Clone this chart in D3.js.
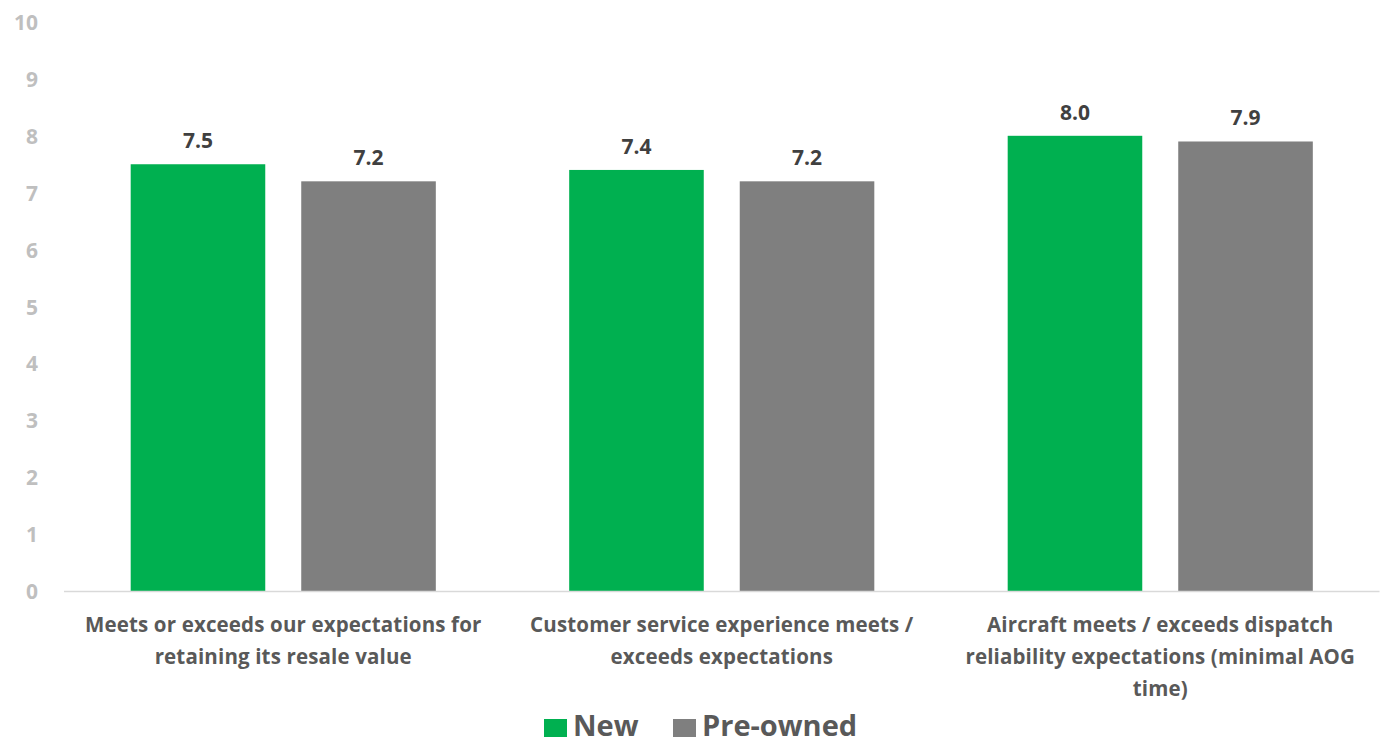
<!DOCTYPE html>
<html>
<head>
<meta charset="utf-8">
<script src="https://cdn.jsdelivr.net/npm/d3@7"></script>
<style>
  body { margin: 0; background: #fff; }
  svg { display: block; font-family: "Open Sans", Lato, sans-serif; font-weight: bold; }
</style>
</head>
<body>
<svg id="chart" width="1384" height="744"></svg>
<script>
// chart values
const categories = ["c1", "c2", "c3"]
const categoryLines = [
    ["Meets or exceeds our expectations for", "retaining its resale value"],
    ["Customer service experience meets /", "exceeds expectations"],
    ["Aircraft meets / exceeds dispatch", "reliability expectations (minimal AOG", "time)"]
]
const seriesNames = ["New", "Pre-owned"]
const newValues = [7.5, 7.4, 8.0]
const preownedValues = [7.2, 7.2, 7.9]
const yTicks = [0, 1, 2, 3, 4, 5, 6, 7, 8, 9, 10]
const colors = ["#00b050", "#7f7f7f"]

const svg = d3.select("#chart")
const plotLeft = 64, plotRight = 1379.5, plotTop = 22, plotBottom = 591

const x0 = d3.scaleBand().domain(categories).range([plotLeft, plotRight]).padding(0)
const x1 = d3.scaleBand().domain(seriesNames).range([0, x0.bandwidth()])
    .paddingInner(0.211).paddingOuter(0.391)
const y = d3.scaleLinear().domain([0, 10]).range([plotBottom, plotTop])

// y axis labels (no line)
const yAxis = d3.axisLeft(y).tickValues(yTicks).tickSize(0).tickPadding(0).tickFormat(d3.format("d"))
const yg = svg.append("g").attr("transform", "translate(38,0)").call(yAxis)
yg.select(".domain").remove()
yg.selectAll("text")
    .attr("fill", "#bfbfbf")
    .attr("dy", "0.36em")
    .style("font-size", "21px")
    .style("font-family", "'Open Sans', Lato, sans-serif")
    .style("font-weight", "bold")

const rows = categories.map((c, i) => ({ cat: c, vals: [newValues[i], preownedValues[i]] }))

const groups = svg.append("g").selectAll("g")
    .data(rows)
    .join("g")
    .attr("transform", d => `translate(${x0(d.cat)},0)`)

groups.selectAll("rect")
    .data(d => d.vals.map((v, j) => ({ name: seriesNames[j], v: v, j: j })))
    .join("rect")
    .attr("x", d => x1(d.name))
    .attr("width", x1.bandwidth())
    .attr("y", d => y(d.v))
    .attr("height", d => y(0) - y(d.v))
    .attr("fill", d => colors[d.j])

groups.selectAll("text.val")
    .data(d => d.vals.map((v, j) => ({ name: seriesNames[j], v: v })))
    .join("text")
    .attr("class", "val")
    .attr("x", d => x1(d.name) + x1.bandwidth() / 2)
    .attr("y", d => y(d.v) - 16)
    .attr("text-anchor", "middle")
    .attr("fill", "#404040")
    .style("font-size", "21px")
    .text(d => d3.format(".1f")(d.v))

// baseline
svg.append("line")
    .attr("x1", plotLeft).attr("x2", plotRight)
    .attr("y1", y(0) + 0.5).attr("y2", y(0) + 0.5)
    .attr("stroke", "#d9d9d9").attr("stroke-width", 1.3)

// category labels
categories.forEach((c, i) => {
    const t = svg.append("text")
        .attr("x", x0(c) + x0.bandwidth() / 2)
        .attr("y", 632)
        .attr("text-anchor", "middle")
        .attr("fill", "#595959")
        .style("font-size", "20.5px")
        .style("letter-spacing", "0.15px")
    categoryLines[i].forEach((line, k) => {
        t.append("tspan")
            .attr("x", x0(c) + x0.bandwidth() / 2)
            .attr("dy", k === 0 ? 0 : 32)
            .text(line)
    })
})

// legend
const legend = svg.append("g").attr("transform", "translate(544,727)")
const lx = [0, 129]
seriesNames.forEach((s, i) => {
    legend.append("rect")
        .attr("x", lx[i]).attr("y", -8)
        .attr("width", 23).attr("height", 18)
        .attr("fill", colors[i])
    legend.append("text")
        .attr("x", lx[i] + 29).attr("y", 9)
        .attr("fill", "#595959")
        .style("font-size", "29px")
        .text(s)
})
</script>
</body>
</html>
